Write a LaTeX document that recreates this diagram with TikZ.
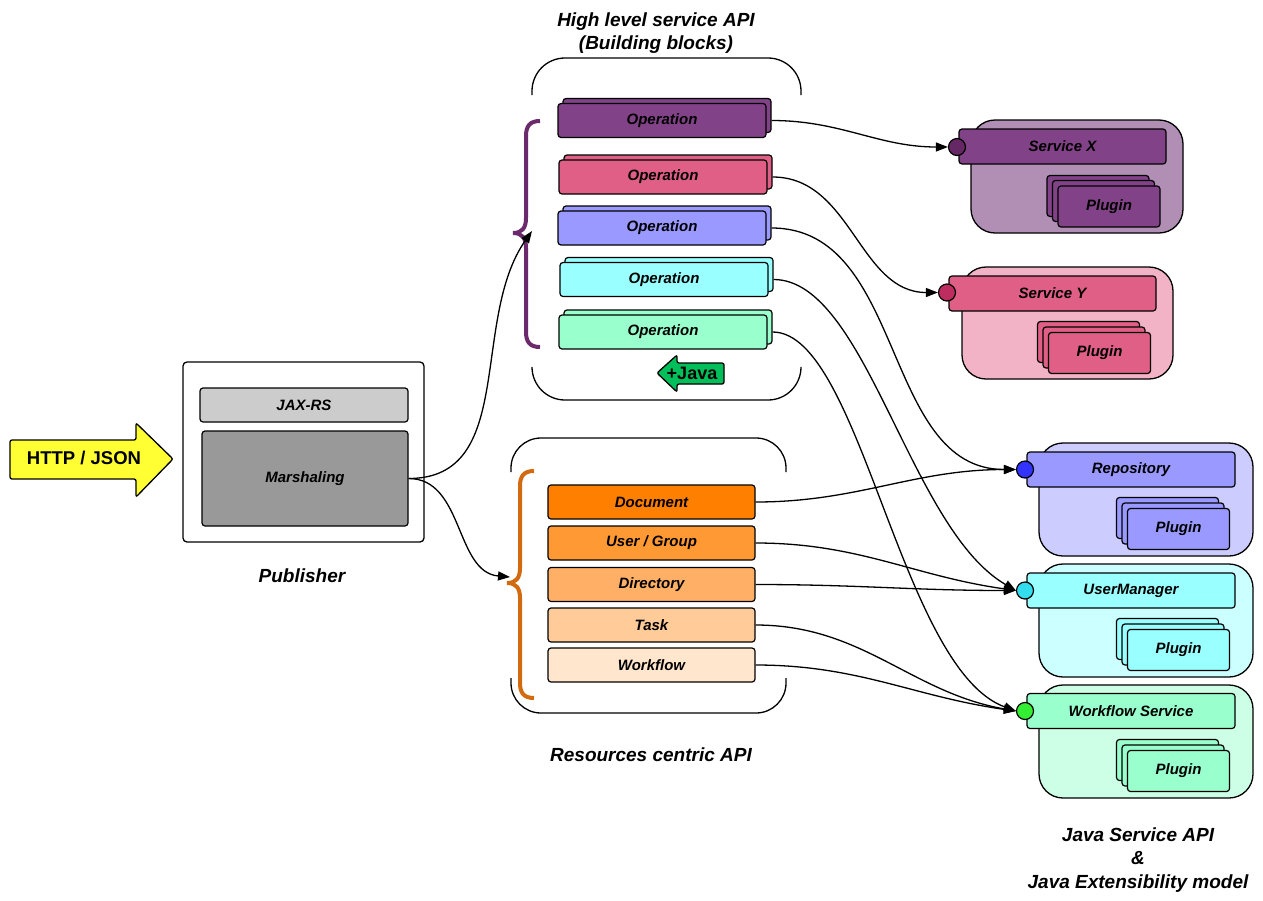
\documentclass[tikz,border=0pt]{standalone}
\usepackage{fontspec}
\setmainfont{Liberation Sans}
\usetikzlibrary{arrows.meta}
\definecolor{opA}{RGB}{130,66,135}
\definecolor{opB}{RGB}{223,95,134}
\definecolor{opC}{RGB}{153,153,255}
\definecolor{opD}{RGB}{153,255,255}
\definecolor{opE}{RGB}{153,255,204}
\definecolor{svA}{RGB}{177,143,181}
\definecolor{svB}{RGB}{243,179,199}
\definecolor{svC}{RGB}{204,204,255}
\definecolor{svD}{RGB}{204,255,255}
\definecolor{svE}{RGB}{204,255,229}
\definecolor{dA}{RGB}{102,40,100}
\definecolor{dB}{RGB}{190,45,95}
\definecolor{dC}{RGB}{51,51,255}
\definecolor{dD}{RGB}{51,221,238}
\definecolor{dE}{RGB}{51,238,51}
\definecolor{rA}{RGB}{255,127,0}
\definecolor{rB}{RGB}{255,153,51}
\definecolor{rC}{RGB}{255,176,102}
\definecolor{rD}{RGB}{255,204,153}
\definecolor{rE}{RGB}{255,230,204}
\definecolor{braceP}{RGB}{107,42,107}
\definecolor{braceO}{RGB}{210,106,16}
\definecolor{yel}{RGB}{255,255,51}
\definecolor{jgreen}{RGB}{0,190,90}
\newcommand\lbl{\fontsize{15}{18}\selectfont\bfseries\itshape}
\newcommand\ttl{\fontsize{19}{23.5}\selectfont\bfseries\itshape}
\tikzset{
  bx/.style={draw, line width=1.2pt, rounded corners=3pt, inner sep=0pt, font=\lbl},
  opbox/.style={bx, minimum width=208pt, minimum height=34pt},
  resbox/.style={bx, minimum width=207pt, minimum height=34pt},
  hdr/.style={bx, minimum width=208pt, minimum height=35pt},
  plug/.style={bx, minimum width=102pt, minimum height=41pt},
  outerbox/.style={draw, line width=1.3pt, rounded corners=24pt, inner sep=0pt},
  dot/.style={circle, draw, line width=1.2pt, minimum size=17pt, inner sep=0pt},
  conn/.style={draw, line width=1.3pt, -{Triangle[length=12pt,width=9pt]}},
  cont/.style={draw, line width=1.3pt, rounded corners=33pt},
  ttlnode/.style={font=\ttl, align=center, inner sep=0pt},
}
\begin{document}
\begin{tikzpicture}[x=1pt,y=1pt]
\useasboundingbox[fill=white] (0,0) rectangle (1263,-900);

% ---------- titles ----------
\node[ttlnode] (t1) at (656,-33) {High level service API\\(Building blocks)};
\node[ttlnode] (t2) at (302,-576) {Publisher};
\node[ttlnode] (t3) at (651,-755) {Resources centric API};
\node[ttlnode] (t4) at (1138,-860) {Java Service API\\\&\\Java Extensibility model};

% ---------- HTTP / JSON arrow ----------
\draw[line width=1.3pt, fill=yel, rounded corners=2pt]
  (10,-440) -- (136,-440) -- (136,-423) -- (173,-459) -- (136,-497) -- (136,-479) -- (10,-479) -- cycle;
\node[font=\fontsize{18.5}{20}\selectfont\bfseries, inner sep=0pt] (http) at (84,-458) {HTTP / JSON};

% ---------- Publisher ----------
\node[draw, line width=1.3pt, rounded corners=4pt, minimum width=241pt, minimum height=180pt] (pub) at (303.5,-452) {};
\node[bx, fill=black!20, minimum width=208pt, minimum height=34pt] (jax) at (304,-405) {JAX-RS};
\node[bx, fill=black!40, minimum width=206pt, minimum height=95pt] (mar) at (305,-478.5) {Marshaling};

% ---------- High level container ----------
\draw[cont] (532,-95) -- (532,-58) -- (801,-58) -- (801,-95);
\draw[cont] (532,-367) -- (532,-400) -- (801,-400) -- (801,-367);

% purple brace
\draw[braceP, line width=4pt]
  (540,-121) .. controls (530,-121) and (526,-126) .. (526,-136) -- (526,-218)
  .. controls (526,-228) and (522,-233) .. (513,-233)
  .. controls (522,-233) and (526,-238) .. (526,-248) -- (526,-332)
  .. controls (526,-342) and (530,-347) .. (540,-347);
\coordinate (pb) at (532,-231);

% operations
\node[opbox, fill=opA] (op1b) at (667,-115.5) {};
\node[opbox, fill=opA] (op1) at (662,-120.5) {Operation};
\node[opbox, fill=opB] (op2b) at (668,-172) {};
\node[opbox, fill=opB] (op2) at (663,-177) {Operation};
\node[opbox, fill=opC] (op3b) at (667,-223) {};
\node[opbox, fill=opC] (op3) at (662,-228) {Operation};
\node[opbox, fill=opD] (op4b) at (669,-274.5) {};
\node[opbox, fill=opD] (op4) at (664,-279.5) {Operation};
\node[opbox, fill=opE] (op5b) at (668,-327) {};
\node[opbox, fill=opE] (op5) at (663,-332) {Operation};

% +Java arrow
\draw[line width=1.3pt, fill=jgreen, rounded corners=2pt]
  (657,-373) -- (677,-355) -- (677,-363) -- (724,-363) -- (724,-384) -- (677,-384) -- (677,-392) -- cycle;
\node[font=\fontsize{18}{20}\selectfont\bfseries, inner sep=0pt] (java) at (692,-373) {+Java};

% ---------- Resource container ----------
\draw[cont, rounded corners=30pt] (511,-472) -- (511,-438) -- (786,-438) -- (786,-472);
\draw[cont, rounded corners=30pt] (511,-678) -- (511,-713) -- (786,-713) -- (786,-678);

% orange brace
\draw[braceO, line width=4pt]
  (534,-471) .. controls (524,-471) and (520,-476) .. (520,-486) -- (520,-568)
  .. controls (520,-578) and (516,-583) .. (507,-583)
  .. controls (516,-583) and (520,-588) .. (520,-598) -- (520,-683)
  .. controls (520,-693) and (524,-698) .. (534,-698);
\coordinate (ob) at (510,-577);

\node[resbox, fill=rA] (rs1) at (651.5,-502) {Document};
\node[resbox, fill=rB] (rs2) at (651.5,-543) {User / Group};
\node[resbox, fill=rC] (rs3) at (651.5,-584.5) {Directory};
\node[resbox, fill=rD] (rs4) at (651.5,-625) {Task};
\node[resbox, fill=rE] (rs5) at (651.5,-665) {Workflow};

% ---------- Service X ----------
\node[outerbox, fill=svA, minimum width=212pt, minimum height=113pt] (sxo) at (1077,-176.5) {};
\node[hdr, minimum width=207pt, fill=opA] (sx) at (1062.5,-146.5) {Service X};
\node[dot, fill=dA] (dX) at (957,-147) {};
\node[plug, fill=opA] (px3) at (1098,-196) {};
\node[plug, fill=opA] (px2) at (1103.5,-201) {};
\node[plug, fill=opA] (px1) at (1109,-206.5) {Plugin};

% ---------- Service Y ----------
\node[outerbox, fill=svB, minimum width=211pt, minimum height=112pt] (syo) at (1067.5,-323) {};
\node[hdr, minimum width=207pt, fill=opB] (sy) at (1052.5,-293.5) {Service Y};
\node[dot, fill=dB] (dY) at (947,-292.5) {};
\node[plug, fill=opB] (py3) at (1088.5,-342) {};
\node[plug, fill=opB] (py2) at (1094,-347.5) {};
\node[plug, fill=opB] (py1) at (1099.5,-353) {Plugin};

% ---------- Repository ----------
\node[outerbox, fill=svC, minimum width=214pt, minimum height=113pt] (sro) at (1146,-499.5) {};
\node[hdr, fill=opC] (sr) at (1131,-469.5) {Repository};
\node[dot, fill=dC] (dR) at (1025,-469.5) {};
\node[plug, fill=opC] (pr3) at (1167.5,-518) {};
\node[plug, fill=opC] (pr2) at (1173,-523.5) {};
\node[plug, fill=opC] (pr1) at (1178.5,-529) {Plugin};

% ---------- UserManager ----------
\node[outerbox, fill=svD, minimum width=214pt, minimum height=113pt] (suo) at (1146,-620.5) {};
\node[hdr, fill=opD] (su) at (1131,-590.5) {UserManager};
\node[dot, fill=dD] (dU) at (1025,-590.5) {};
\node[plug, fill=opD] (pu3) at (1167.5,-639) {};
\node[plug, fill=opD] (pu2) at (1173,-644.5) {};
\node[plug, fill=opD] (pu1) at (1178.5,-650) {Plugin};

% ---------- Workflow Service ----------
\node[outerbox, fill=svE, minimum width=214pt, minimum height=113pt] (swo) at (1146,-741.5) {};
\node[hdr, fill=opE] (sw) at (1131,-711) {Workflow Service};
\node[dot, fill=dE] (dW) at (1025,-711) {};
\node[plug, fill=opE] (pw3) at (1167.5,-760) {};
\node[plug, fill=opE] (pw2) at (1173,-765.5) {};
\node[plug, fill=opE] (pw1) at (1178.5,-771) {Plugin};

% ---------- connectors ----------
\draw[conn] (mar.east) to[out=0,in=235] (pb);
\draw[conn] (mar.east) to[out=0,in=175] (ob);

\draw[conn] (op1b.east |- op1.east) to[out=0,in=180] (dX.west);
\draw[conn] (op2b.east |- op2.east) to[out=0,in=180] (dY.west);
\draw[conn] (op3b.east |- op3.east) to[out=0,in=180] (dR.west);
\draw[conn] (op4b.east |- op4.east) to[out=0,in=150,out looseness=0.6,in looseness=0.8] (dU.west);
\draw[conn] (op5b.east |- op5.east) to[out=0,in=160,out looseness=0.5,in looseness=0.7] (dW.west);

\draw[conn] (rs1.east) to[out=0,in=180] (dR.west);
\draw[conn] (rs2.east) to[out=0,in=172] (dU.west);
\draw[conn] (rs3.east) to[out=0,in=180] (dU.west);
\draw[conn] (rs4.east) to[out=0,in=170] (dW.west);
\draw[conn] (rs5.east) to[out=0,in=172] (dW.west);
\end{tikzpicture}
\end{document}
